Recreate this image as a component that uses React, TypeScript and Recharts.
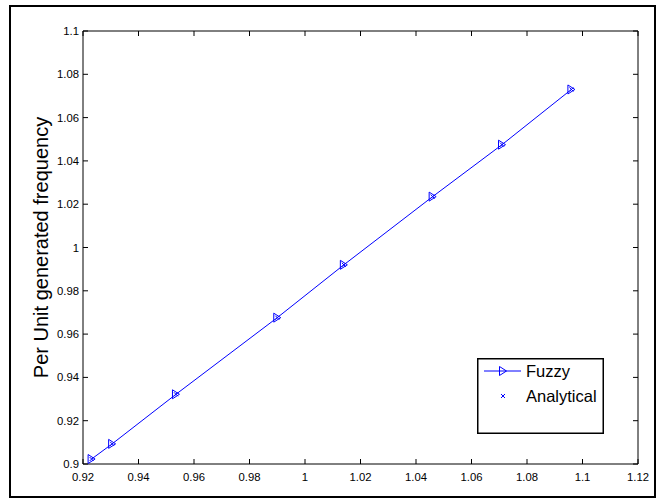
import { ScatterChart, Scatter, XAxis, YAxis, Legend, ReferenceArea } from 'recharts';

document.body.style.margin = '0';

// values
const fuzzyX = [0.9231, 0.9305, 0.9535, 0.99, 1.014, 1.046, 1.071, 1.096];
const fuzzyY = [0.9023, 0.9093, 0.9322, 0.9676, 0.992, 1.0235, 1.0475, 1.073];
const analyticalX = [0.9231, 0.9305, 0.9535, 0.99, 1.014, 1.046, 1.071, 1.096];
const analyticalY = [0.9023, 0.9093, 0.9322, 0.9676, 0.992, 1.0235, 1.0475, 1.073];

const xTicks = [0.92, 0.94, 0.96, 0.98, 1, 1.02, 1.04, 1.06, 1.08, 1.1, 1.12];
const yTicks = [0.9, 0.92, 0.94, 0.96, 0.98, 1, 1.02, 1.04, 1.06, 1.08, 1.1];

const BLUE = '#0000ff';
const FONT = '"Liberation Sans", Arial, sans-serif';
const PLOT = { left: 83, right: 638, top: 31, bottom: 464 };

const fuzzyData = fuzzyX.map((x, i) => ({ x, y: fuzzyY[i] }));
const analyticalData = analyticalX.map((x, i) => ({ x, y: analyticalY[i] }));

const fmt = (v: number) => String(Number(v.toFixed(2)));

const XTick = ({ x, y, payload }: any) => (
    <g>
        <line x1={x} x2={x} y1={PLOT.bottom} y2={PLOT.bottom - 5} stroke="#000" />
        <line x1={x} x2={x} y1={PLOT.top} y2={PLOT.top + 5} stroke="#000" />
        <text x={x} y={y} dy={17} textAnchor="middle" fontSize={11.3} fontFamily={FONT} fill="#000">
            {fmt(payload.value)}
        </text>
    </g>
);

const YTick = ({ x, y, payload }: any) => (
    <g>
        <line x1={PLOT.left} x2={PLOT.left + 5} y1={y} y2={y} stroke="#000" />
        <line x1={PLOT.right} x2={PLOT.right - 5} y1={y} y2={y} stroke="#000" />
        <text x={x} y={y} dx={-4} dy={4} textAnchor="end" fontSize={11.3} fontFamily={FONT} fill="#000">
            {fmt(payload.value)}
        </text>
    </g>
);

const Triangle = ({ cx, cy }: any) => (
    <polygon
        points={`${cx - 3.5},${cy - 4.5} ${cx + 3.5},${cy} ${cx - 3.5},${cy + 4.5}`}
        fill="none"
        stroke={BLUE}
        strokeWidth={1}
    />
);

const Cross = ({ cx, cy }: any) => (
    <path d={`M${cx - 2},${cy - 2}L${cx + 2},${cy + 2}M${cx - 2},${cy + 2}L${cx + 2},${cy - 2}`} stroke={BLUE} strokeWidth={1} />
);

const renderLegend = () => (
    <svg width={127} height={76}>
        <rect x={0.75} y={0.75} width={125.5} height={74.5} fill="#fff" stroke="#000" strokeWidth={1.5} />
        <line x1={7} x2={44} y1={13} y2={13} stroke={BLUE} />
        <Triangle cx={26} cy={13} />
        <text x={49} y={19} fontSize={16.5} fontFamily={FONT} fill="#000">Fuzzy</text>
        <Cross cx={26} cy={38} />
        <text x={49} y={44} fontSize={16.5} fontFamily={FONT} fill="#000">Analytical</text>
    </svg>
);

export default function App() {
    return (
        <div style={{ position: 'relative', width: 664, height: 502, background: '#fff' }}>
            <div
                style={{
                    position: 'absolute',
                    left: 9,
                    top: 5,
                    width: 647,
                    height: 493,
                    border: '2px solid #000',
                    boxSizing: 'border-box',
                    pointerEvents: 'none',
                }}
            />
            <ScatterChart width={664} height={502} margin={{ top: PLOT.top, right: 664 - PLOT.right, bottom: 18, left: 0 }}>
                <XAxis
                    type="number"
                    dataKey="x"
                    domain={[0.92, 1.12]}
                    ticks={xTicks}
                    interval={0}
                    height={20}
                    tickSize={0}
                    tickMargin={0}
                    axisLine={false}
                    tick={<XTick />}
                />
                <YAxis
                    type="number"
                    dataKey="y"
                    domain={[0.9, 1.1]}
                    ticks={yTicks}
                    interval={0}
                    width={PLOT.left}
                    tickSize={0}
                    tickMargin={0}
                    axisLine={false}
                    tick={<YTick />}
                    label={{
                        value: 'Per Unit generated frequency',
                        angle: -90,
                        position: 'center',
                        dx: -1,
                        fontSize: 20,
                        fontFamily: FONT,
                        fill: '#000',
                    }}
                />
                <ReferenceArea x1={0.92} x2={1.12} y1={0.9} y2={1.1} fill="none" stroke="#000" strokeWidth={1} />
                <Scatter
                    name="Fuzzy"
                    data={fuzzyData}
                    line={{ stroke: BLUE, strokeWidth: 1 }}
                    lineType="joint"
                    shape={<Triangle />}
                    isAnimationActive={false}
                />
                <Scatter name="Analytical" data={analyticalData} shape={<Cross />} isAnimationActive={false} />
                <Legend
                    layout="vertical"
                    align="center"
                    verticalAlign="middle"
                    content={renderLegend}
                    wrapperStyle={{ left: 477, top: 358, width: 127, height: 76 }}
                />
            </ScatterChart>
        </div>
    );
}
